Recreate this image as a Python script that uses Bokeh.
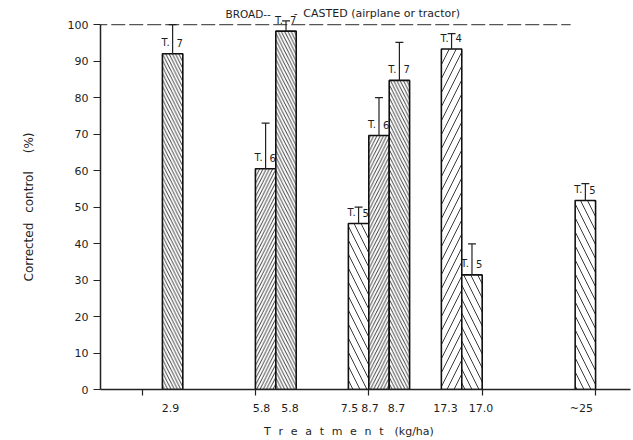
from bokeh.plotting import figure
from bokeh.models import FixedTicker, ColumnDataSource, Range1d
from bokeh.core.properties import value
from bokeh.embed import file_html
from bokeh.resources import INLINE

# ---- data ----
treatments = ["2.9", "5.8", "5.8", "7.5", "8.7", "8.7", "17.3", "17.0", "~25"]
control = [92.0, 60.5, 98.2, 45.5, 69.6, 84.7, 93.3, 31.4, 51.8]
error_top = [100.0, 73.0, 101.0, 50.0, 80.0, 95.1, 97.5, 39.9, 56.4]
n_obs = ["7", "6", "7", "5", "6", "7", "4", "5", "5"]
broadcast_level = 100
y_ticks = list(range(0, 101, 10))
broadcast_text_left = "BROAD--"
broadcast_text_right = "-\u2002CASTED (airplane or tractor)"

# ---- layout / style (not data) ----
slot = [0, 1, 1, 2, 2, 2, 3, 3, 4]
shift = [1, 0, 1, -1, 0, 1, -2, -1, -1]
W = 0.18
PX = 113.4  # pixels per slot
label_nudge_px = [-2, -4, 4, -9, -9, -3, -6, 9, -4]
hatches = ["\\", "/", "\\", "\\", "/", "\\", "/", "\\", "\\"]
hscale = [6.5, 6.5, 6.5, 14, 6.5, 6.5, 14, 14, 14]
FONT = "DejaVu Sans"
INK = "#1e1e1e"

centers = [s + k * W + W / 2 for s, k in zip(slot, shift)]
label_pos = [c + d / PX for c, d in zip(centers, label_nudge_px)]

src = ColumnDataSource(dict(
    x=centers, top=control, err=error_top, n=n_obs,
    tlabel=["T."] * len(centers),
    ly=[v + 3 for v in control],
    hatch=hatches, hscale=hscale,
    cl=[c - 0.035 for c in centers], cr=[c + 0.035 for c in centers],
))

p = figure(width=633, height=440, output_backend="svg", toolbar_location=None,
           x_range=Range1d(-0.366, 4.308), y_range=Range1d(0, 106.6),
           min_border_left=100, min_border_right=3, min_border_top=0,
           min_border_bottom=51)
p.outline_line_color = None
p.xgrid.visible = False
p.ygrid.visible = False
p.background_fill_color = "white"
p.border_fill_color = "white"

# broadcast reference line
p.line(x=[-0.43, 3.78], y=[broadcast_level, broadcast_level], line_color="#555",
       line_width=1.3, line_dash="14 4")
p.text(x=[0.736], y=[broadcast_level + 3], text=[broadcast_text_left],
       text_font=value(FONT), text_font_size="10.5px", text_color=INK,
       text_baseline="middle", text_align="left")
p.text(x=[1.339], y=[broadcast_level + 3], text=[broadcast_text_right],
       text_font=value(FONT), text_font_size="11px", text_color=INK,
       text_baseline="middle", text_align="left")

# bars
p.vbar(x="x", top="top", bottom=0, width=W, source=src, fill_color="white",
       line_color="#111", line_width=1.6, hatch_pattern="hatch",
       hatch_scale="hscale", hatch_color="#222", hatch_weight=0.9)

# error bars
p.segment(x0="x", y0="top", x1="x", y1="err", source=src, line_color="#222", line_width=1.2)
p.segment(x0="cl", y0="err", x1="cr", y1="err", source=src, line_color="#222", line_width=1.2)

# T. n labels
p.text(x="x", y="ly", text="tlabel", source=src, x_offset=-3, text_align="right",
       text_baseline="middle", text_font=value(FONT), text_font_size="10px", text_color=INK)
p.text(x="x", y="ly", text="n", source=src, x_offset=4, text_align="left",
       text_baseline="middle", text_font=value(FONT), text_font_size="10px", text_color=INK)

# y axis
ya = p.yaxis[0]
ya.ticker = FixedTicker(ticks=y_ticks, minor_ticks=[])
ya.bounds = (0, 100)
ya.major_tick_out = 7
ya.major_tick_in = 0
ya.minor_tick_out = 0
ya.minor_tick_in = 0
ya.major_label_standoff = 5
ya.axis_line_color = "#222"
ya.axis_line_width = 1.5
ya.major_tick_line_color = "#222"
ya.major_label_text_font = FONT
ya.major_label_text_font_size = "11px"
ya.major_label_text_color = INK
ya.axis_label = "Corrected\u2002 control\u2002\u2002\u2002(%)\u2003\u2003"
ya.axis_label_text_font = FONT
ya.axis_label_text_font_size = "12px"
ya.axis_label_text_font_style = "normal"
ya.axis_label_text_color = INK
ya.axis_label_standoff = 29

# x axis
xa = p.xaxis[0]
xa.ticker = FixedTicker(ticks=label_pos, minor_ticks=[0, 1, 2, 3, 4])
xa.major_label_overrides = {c: t for c, t in zip(label_pos, treatments)}
xa.major_tick_out = 0
xa.major_tick_in = 0
xa.minor_tick_out = 6
xa.minor_tick_in = 0
xa.minor_tick_line_color = "#222"
xa.minor_tick_line_width = 1.2
xa.axis_line_color = "#222"
xa.axis_line_width = 1.5
xa.major_label_standoff = 6
xa.major_label_text_font = FONT
xa.major_label_text_font_size = "11px"
xa.major_label_text_color = INK
sp = "\u2002\u2009"
xa.axis_label = sp.join("Treatment") + "\u2002\u2002(kg/ha)\u2003\u2003\u2003"
xa.axis_label_text_font = FONT
xa.axis_label_text_font_size = "11px"
xa.axis_label_text_font_style = "normal"
xa.axis_label_text_color = INK
xa.axis_label_standoff = 7

open("out.html", "w").write(file_html(p, INLINE))
